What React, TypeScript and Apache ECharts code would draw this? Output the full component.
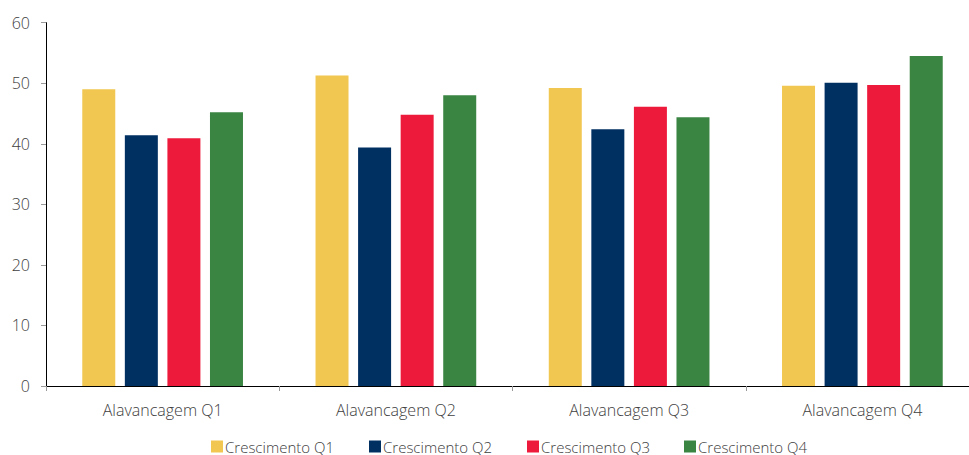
import React, { useEffect, useRef } from "react";
import * as echarts from "echarts";

const categories = ["Alavancagem Q1", "Alavancagem Q2", "Alavancagem Q3", "Alavancagem Q4"];
const seriesNames = ["Crescimento Q1", "Crescimento Q2", "Crescimento Q3", "Crescimento Q4"];
const crescimentoQ1 = [49.0, 51.3, 49.2, 49.6];
const crescimentoQ2 = [41.4, 39.4, 42.4, 50.1];
const crescimentoQ3 = [40.9, 44.8, 46.1, 49.7];
const crescimentoQ4 = [45.2, 48.0, 44.4, 54.5];
const colors = ["#F2C751", "#003062", "#EE1A3B", "#3B8543"];
const yTicks = [0, 10, 20, 30, 40, 50, 60];
const legendLefts = [211, 369, 527, 684];

export default function App() {
  const ref = useRef<HTMLDivElement>(null);
  useEffect(() => {
    if (!ref.current) return;
    const chart = echarts.init(ref.current, undefined, { renderer: "svg" });
    const values = [crescimentoQ1, crescimentoQ2, crescimentoQ3, crescimentoQ4];
    chart.setOption({
      animation: false,
      color: colors,
      grid: {
        left: 46,
        top: 22.7,
        bottom: 69,
        width: 933,
        containLabel: false,
        outerBoundsMode: "none",
      },
      // one legend per series so each entry sits at its own fixed column
      legend: seriesNames.map((name, i) => ({
        left: legendLefts[i],
        top: 439,
        padding: 0,
        itemWidth: 12,
        itemHeight: 12,
        icon: "rect",
        textStyle: {
          fontFamily: "'Open Sans', sans-serif",
          fontWeight: 300,
          fontSize: 15,
          color: "#404040",
          padding: [0, 0, 0, -3],
        },
        data: [name],
      })),
      xAxis: {
        type: "category",
        data: categories,
        axisLine: { lineStyle: { color: "#000", width: 1 } },
        axisTick: { show: true, length: 5, lineStyle: { color: "#999" } },
        axisLabel: {
          margin: 16,
          fontFamily: "'Open Sans', sans-serif",
          fontWeight: 300,
          fontSize: 16,
          color: "#404040",
        },
      },
      yAxis: {
        type: "value",
        min: yTicks[0],
        max: yTicks[yTicks.length - 1],
        interval: 10,
        splitLine: { show: false },
        axisLine: { show: true, lineStyle: { color: "#000", width: 1 } },
        axisTick: { show: true, length: 5, lineStyle: { color: "#999" } },
        axisLabel: {
          margin: 16,
          fontFamily: "'Open Sans', sans-serif",
          fontWeight: 300,
          fontSize: 16,
          color: "#404040",
        },
      },
      series: seriesNames.map((name, i) => ({
        name,
        type: "bar",
        data: values[i],
        barWidth: 33,
        barGap: "29%",
        itemStyle: { color: colors[i] },
      })),
    });
    return () => chart.dispose();
  }, []);
  return <div ref={ref} style={{ width: 969, height: 455, position: "absolute", left: 0, top: 0 }} />;
}
